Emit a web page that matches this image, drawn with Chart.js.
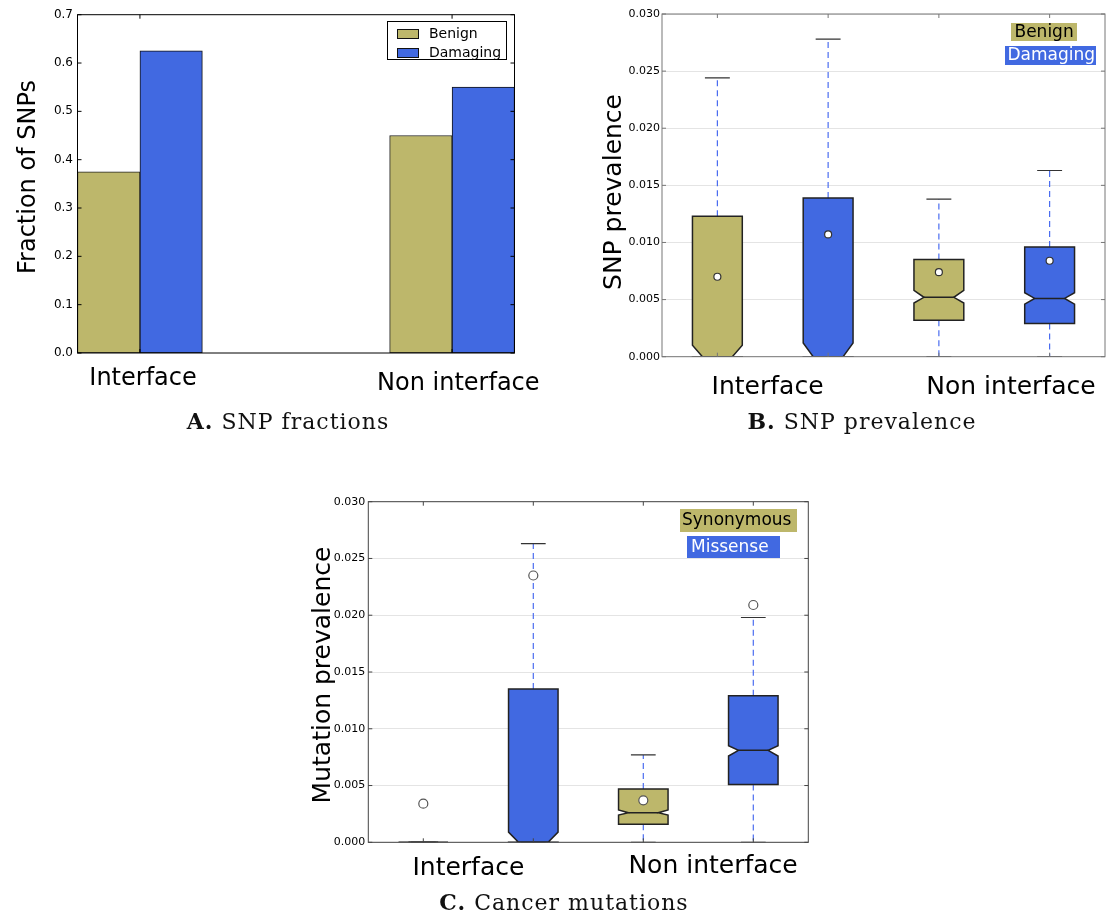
<!DOCTYPE html>
<html>
<head>
<meta charset="utf-8">
<script src="https://cdn.jsdelivr.net/npm/chart.js@4/dist/chart.umd.min.js"></script>
<style>
  html, body { margin: 0; padding: 0; background: #fff; }
  body { width: 1111px; height: 916px; position: relative; overflow: hidden; }
  canvas { position: absolute; }
  .cap { position: absolute; font-family: "DejaVu Serif", serif; font-size: 22px; line-height: 22px;
         letter-spacing: 1px; color: #111; white-space: nowrap; transform: translateX(-50%); }
  .cap b { font-weight: bold; }
</style>
</head>
<body>
<canvas id="chartA" width="560" height="440" style="left:0;top:0"></canvas>
<canvas id="chartB" width="521" height="440" style="left:590px;top:0"></canvas>
<canvas id="chartC" width="520" height="436" style="left:300px;top:480px"></canvas>
<div class="cap" style="left:288px;top:410px"><b>A.</b> SNP fractions</div>
<div class="cap" style="left:862px;top:410px"><b>B.</b> SNP prevalence</div>
<div class="cap" style="left:564px;top:891px"><b>C.</b> Cancer mutations</div>
<script>
// ---- data ----
const categories = ['Interface', 'Non interface'];
const snpSeries = ['Benign', 'Damaging'];
const cancerSeries = ['Synonymous', 'Missense'];

// Fraction of SNPs per category
const benignFraction = [0.375, 0.45];
const damagingFraction = [0.625, 0.55];
const fractionTicks = ['0.0', '0.1', '0.2', '0.3', '0.4', '0.5', '0.6', '0.7'];
const prevalenceTicks = ['0.000', '0.005', '0.010', '0.015', '0.020', '0.025', '0.030'];

// SNP prevalence boxes: Interface/Benign, Interface/Damaging, Non interface/Benign, Non interface/Damaging
const snpWhiskerLow  = [0, 0, 0, 0];
const snpQ1          = [0, 0, 0.0032, 0.0029];
const snpNotchLow    = [-0.0010, -0.0012, 0.0047, 0.0046];
const snpMedian      = [0, 0, 0.0052, 0.0051];
const snpNotchHigh   = [0.0010, 0.0012, 0.0058, 0.0056];
const snpQ3          = [0.0123, 0.0139, 0.0085, 0.0096];
const snpWhiskerHigh = [0.0244, 0.0278, 0.0138, 0.0163];
const snpMean        = [0.0070, 0.0107, 0.0074, 0.0084];

// Cancer mutation prevalence boxes: Interface/Synonymous, Interface/Missense, Non interface/Synonymous, Non interface/Missense
const mutWhiskerLow  = [0, 0, 0, 0];
const mutQ1          = [0, 0, 0.0016, 0.0051];
const mutNotchLow    = [0, -0.0009, 0.0024, 0.0076];
const mutMedian      = [0, 0, 0.0026, 0.0081];
const mutNotchHigh   = [0, 0.0009, 0.00285, 0.0085];
const mutQ3          = [0, 0.0135, 0.0047, 0.0129];
const mutWhiskerHigh = [0, 0.0263, 0.0077, 0.0198];
const mutMean        = [0.0034, 0.0235, 0.0037, 0.0209];

// ---- styling ----
const KHAKI = '#bdb76b';
const ROYAL = '#4169e1';
const FONT = '"DejaVu Sans", sans-serif';
Chart.defaults.font.family = FONT;

function yScale(tickLabels, width, pad, size, showGrid) {
  return {
    type: 'linear',
    min: parseFloat(tickLabels[0]),
    max: parseFloat(tickLabels[tickLabels.length - 1]),
    afterBuildTicks: s => { s.ticks = tickLabels.map(t => ({ value: parseFloat(t) })); },
    afterFit: s => { s.width = width; },
    ticks: { callback: (v, i) => tickLabels[i], padding: pad, color: '#000', autoSkip: false,
             font: { size: size, family: FONT } },
    grid: showGrid ? { display: true, color: '#e4e4e4', lineWidth: 1, drawTicks: false }
                   : { display: false, drawTicks: false },
    border: { display: false }
  };
}

function hiddenX(min, max, stacked) {
  return { type: 'linear', min: min, max: max, display: false, offset: false, stacked: !!stacked };
}

// notched boxes, whiskers and caps, drawn through the chart scales
function drawBoxes(chart, b) {
  const { ctx, chartArea: a, scales: { x, y } } = chart;
  const py = v => y.getPixelForValue(v);
  ctx.save();
  ctx.beginPath();
  ctx.rect(a.left, a.top, a.right - a.left, a.bottom - a.top);
  ctx.clip();
  for (let i = 0; i < b.q1.length; i++) {
    const cx = x.getPixelForValue(i + 1);
    const hw = x.getPixelForValue(i + 1 + b.halfWidth) - cx;
    const capW = hw / 2;
    const inset = hw * 0.4;
    // whiskers
    ctx.setLineDash([6, 4]);
    ctx.strokeStyle = b.whiskerColor;
    ctx.lineWidth = 1.2;
    ctx.beginPath();
    ctx.moveTo(cx, py(b.q3[i])); ctx.lineTo(cx, py(b.wHi[i]));
    ctx.moveTo(cx, py(b.q1[i])); ctx.lineTo(cx, py(b.wLo[i]));
    ctx.stroke();
    ctx.setLineDash([]);
    // caps
    ctx.strokeStyle = b.capColor;
    ctx.lineWidth = 1.2;
    ctx.beginPath();
    ctx.moveTo(cx - capW, py(b.wHi[i])); ctx.lineTo(cx + capW, py(b.wHi[i]));
    ctx.moveTo(cx - capW, py(b.wLo[i])); ctx.lineTo(cx + capW, py(b.wLo[i]));
    ctx.stroke();
    // notched box
    const L = cx - hw, R = cx + hw;
    ctx.beginPath();
    ctx.moveTo(L, py(b.q1[i]));
    ctx.lineTo(R, py(b.q1[i]));
    ctx.lineTo(R, py(b.nLo[i]));
    ctx.lineTo(R - inset, py(b.med[i]));
    ctx.lineTo(R, py(b.nHi[i]));
    ctx.lineTo(R, py(b.q3[i]));
    ctx.lineTo(L, py(b.q3[i]));
    ctx.lineTo(L, py(b.nHi[i]));
    ctx.lineTo(L + inset, py(b.med[i]));
    ctx.lineTo(L, py(b.nLo[i]));
    ctx.closePath();
    ctx.fillStyle = b.colors[i % 2];
    ctx.fill();
    ctx.strokeStyle = '#222';
    ctx.lineWidth = 1.5;
    ctx.lineJoin = 'miter';
    ctx.stroke();
    // median
    ctx.beginPath();
    ctx.moveTo(L + inset, py(b.med[i])); ctx.lineTo(R - inset, py(b.med[i]));
    ctx.stroke();
  }
  ctx.restore();
}

// frame, inward tick marks, category labels, axis title and legend
function decor(cfg) {
  return {
    id: 'decor',
    beforeDatasetsDraw(chart) { if (cfg.boxes) drawBoxes(chart, cfg.boxes); },
    afterDraw(chart) {
      const { ctx, chartArea: a, scales: { x, y } } = chart;
      ctx.save();
      ctx.strokeStyle = cfg.frameColor;
      ctx.lineWidth = 1;
      ctx.strokeRect(a.left, a.top, a.right - a.left, a.bottom - a.top);
      ctx.beginPath();
      y.ticks.forEach(t => {
        const p = y.getPixelForValue(t.value);
        ctx.moveTo(a.left, p); ctx.lineTo(a.left + 4, p);
        ctx.moveTo(a.right, p); ctx.lineTo(a.right - 4, p);
      });
      cfg.xTicks.forEach(v => {
        const p = x.getPixelForValue(v);
        ctx.moveTo(p, a.top); ctx.lineTo(p, a.top + 4);
        ctx.moveTo(p, a.bottom); ctx.lineTo(p, a.bottom - 4);
      });
      ctx.stroke();

      ctx.fillStyle = '#000';
      ctx.textAlign = 'center';
      ctx.textBaseline = 'alphabetic';
      ctx.font = cfg.labelSize + 'px ' + FONT;
      cfg.xLabels.forEach((lab, i) => {
        ctx.fillText(lab, x.getPixelForValue(cfg.xLabelAt[i]), cfg.xLabelBase[i]);
      });

      ctx.save();
      ctx.translate(cfg.title.x, cfg.title.cy);
      ctx.rotate(-Math.PI / 2);
      ctx.font = cfg.title.size + 'px ' + FONT;
      ctx.fillText(cfg.title.text, 0, 0);
      ctx.restore();

      if (cfg.legend) cfg.legend(ctx, chart);
      ctx.restore();
    }
  };
}

const baseOpts = {
  responsive: false,
  animation: false,
  events: [],
  plugins: { legend: { display: false }, tooltip: { enabled: false } }
};

// ---- A. SNP fractions ----
const barWidth = 0.2;
function barPoints(values, seriesIndex) {
  return values.map((v, c) => ({ x: c + barWidth * seriesIndex + barWidth / 2, y: v }));
}
new Chart(document.getElementById('chartA'), {
  type: 'bar',
  data: {
    datasets: [
      { label: snpSeries[0], data: barPoints(benignFraction, 0), backgroundColor: KHAKI,
        borderColor: '#222', borderWidth: 1, borderSkipped: false },
      { label: snpSeries[1], data: barPoints(damagingFraction, 1), backgroundColor: ROYAL,
        borderColor: '#111', borderWidth: 1, borderSkipped: false }
    ]
  },
  options: Object.assign({}, baseOpts, {
    layout: { padding: { left: 0, top: 14.7, right: 45.5, bottom: 87 } },
    datasets: { bar: { barPercentage: 1, categoryPercentage: 1 } },
    scales: { x: hiddenX(0, 1.4, true), y: yScale(fractionTicks, 77.5, 4.5, 12, false) }
  }),
  plugins: [decor({
    frameColor: '#000',
    xTicks: [0.2, 1.2],
    xLabels: categories, xLabelAt: [0.21, 1.22], xLabelBase: [385, 390], labelSize: 24,
    title: { text: 'Fraction of SNPs', x: 35, cy: 177, size: 24 },
    legend(ctx, chart) {
      ctx.fillStyle = '#fff';
      ctx.fillRect(387, 21, 119, 39);
      ctx.strokeStyle = '#000';
      ctx.lineWidth = 1;
      ctx.strokeRect(387.5, 21.5, 119, 38);
      ctx.font = '14px ' + FONT;
      ctx.textAlign = 'left';
      ctx.textBaseline = 'middle';
      chart.data.datasets.forEach((ds, i) => {
        const top = 29 + i * 19;
        ctx.fillStyle = ds.backgroundColor;
        ctx.fillRect(397, top, 22, 10);
        ctx.strokeStyle = '#111';
        ctx.strokeRect(397.5, top + 0.5, 21, 9);
        ctx.fillStyle = '#000';
        ctx.fillText(ds.label, 429, top + 5);
      });
    }
  })]
});

// ---- box-plot panels ----
function boxPanel(id, opts) {
  const meanPoints = opts.mean.map((v, i) => ({ x: i + 1, y: v }));
  new Chart(document.getElementById(id), {
    type: 'scatter',
    data: {
      datasets: [{ label: 'mean', data: meanPoints, pointRadius: opts.meanRadius,
                   pointBackgroundColor: '#fff', pointBorderColor: opts.meanEdge, pointBorderWidth: 1.2 }]
    },
    options: Object.assign({}, baseOpts, {
      layout: { padding: opts.padding },
      scales: { x: hiddenX(0.5, 4.5), y: yScale(prevalenceTicks, opts.yWidth, opts.tickPad, 11, true) }
    }),
    plugins: [decor({
      frameColor: opts.frameColor,
      xTicks: [1, 2, 3, 4],
      xLabels: categories, xLabelAt: opts.labelAt, xLabelBase: opts.labelBase, labelSize: 25,
      title: opts.title,
      boxes: Object.assign({ halfWidth: 0.225, colors: [KHAKI, ROYAL],
                             whiskerColor: '#4a6cf0', capColor: '#333' }, opts.boxes),
      legend(ctx) {
        ctx.font = '17px ' + FONT;
        ctx.textAlign = 'left';
        ctx.textBaseline = 'middle';
        opts.legend.forEach((it, i) => {
          ctx.fillStyle = [KHAKI, ROYAL][i];
          ctx.fillRect(it.r[0], it.r[1], it.r[2], it.r[3]);
          ctx.fillStyle = i === 0 ? '#000' : '#fff';
          ctx.fillText(opts.names[i], it.tx, it.ty);
        });
      }
    })]
  });
}

boxPanel('chartB', {
  mean: snpMean, meanRadius: 3.5, meanEdge: '#333',
  padding: { left: 0, top: 14, right: 6, bottom: 83.3 },
  yWidth: 72, tickPad: 2, frameColor: '#777',
  labelAt: [1.453, 3.651], labelBase: [394, 394],
  title: { text: 'SNP prevalence', x: 31, cy: 192, size: 25 },
  boxes: { q1: snpQ1, q3: snpQ3, med: snpMedian, nLo: snpNotchLow, nHi: snpNotchHigh,
           wLo: snpWhiskerLow, wHi: snpWhiskerHigh },
  names: snpSeries,
  legend: [ { r: [421, 23, 66, 18], tx: 424.5, ty: 32.5 },
            { r: [415, 46, 91, 19], tx: 417.5, ty: 56 } ]
});

boxPanel('chartC', {
  mean: mutMean, meanRadius: 4.5, meanEdge: '#555',
  padding: { left: 0, top: 21.7, right: 11.7, bottom: 73.7 },
  yWidth: 68.3, tickPad: 3, frameColor: '#444',
  labelAt: [1.41, 3.634], labelBase: [395, 393],
  title: { text: 'Mutation prevalence', x: 30, cy: 195, size: 25 },
  boxes: { q1: mutQ1, q3: mutQ3, med: mutMedian, nLo: mutNotchLow, nHi: mutNotchHigh,
           wLo: mutWhiskerLow, wHi: mutWhiskerHigh },
  names: cancerSeries,
  legend: [ { r: [380, 29, 117, 23], tx: 382, ty: 41 },
            { r: [387, 56, 93, 22], tx: 391, ty: 67.5 } ]
});
</script>
</body>
</html>
